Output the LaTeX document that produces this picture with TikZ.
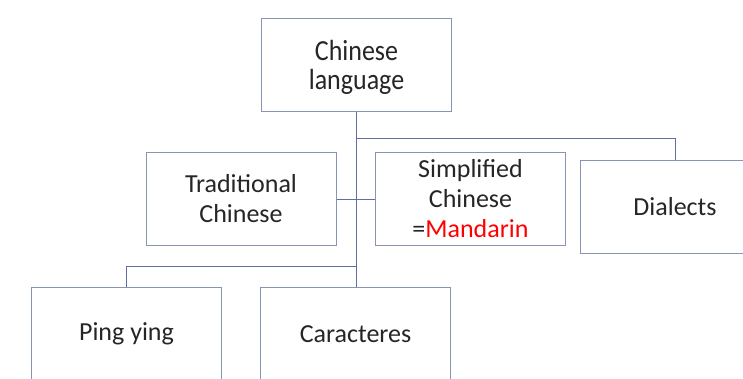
\documentclass[tikz,border=0pt]{standalone}
\usepackage{fontspec}
\setmainfont{Carlito}
\definecolor{boxline}{RGB}{135,148,180}
\definecolor{conn}{RGB}{95,110,160}
\definecolor{txt}{RGB}{38,38,38}
\begin{document}
\begin{tikzpicture}[x=1pt,y=-1pt,
  box/.style={draw=boxline, line width=1pt, fill=white, minimum width=190pt, minimum height=93pt,
    inner sep=0pt, align=center, text=txt, font=\fontsize{26}{30}\selectfont},
  lbl/.style={inner sep=0pt, align=center, text=txt, font=\fontsize{26}{29}\selectfont},
  link/.style={draw=conn, line width=1pt}]
\useasboundingbox (0,0) rectangle (743,378);
\clip (0,0) rectangle (743,378);
\node[box] (top) at (356.5,64.5) {};
\node[lbl] (toplbl) at ([yshift=-3pt]top.center) {\scalebox{1}[1.12]{Chinese}\\\scalebox{1}[1.12]{language}};
\node[box] (trad) at (241,199) {Traditional\\Chinese};
\node[box] (simp) at (470.5,199) {Simplified\\Chinese\\=\textcolor{red}{Mandarin}};
\node[box] (dia) at (675,206.5) {Dialects};
\node[box] (ping) at (126.5,334) {Ping ying};
\node[box] (car) at (355.5,334) {Caracteres};
\coordinate (j1) at (356,138);
\coordinate (j2) at (356,266);
\draw[link] (top.south -| j1) -- (car.north -| j1);
\draw[link] (j1) -| (dia.north);
\draw[link] (trad.east) -- (simp.west);
\draw[link] (j2) -| (ping.north);
\end{tikzpicture}
\end{document}
